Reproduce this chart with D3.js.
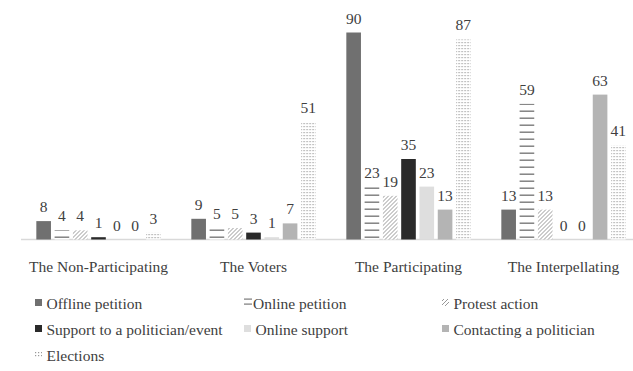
<!DOCTYPE html>
<html>
<head>
<meta charset="utf-8">
<script src="https://cdn.jsdelivr.net/npm/d3@7"></script>
</head>
<body style="margin:0">
<svg id="s" width="633" height="371"></svg>
<script>
// Groups of respondents and forms of participation
const categories = ["The Non-Participating", "The Voters", "The Participating", "The Interpellating"];
const seriesNames = ["Offline petition", "Online petition", "Protest action",
  "Support to a politician/event", "Online support", "Contacting a politician", "Elections"];

// Values per series, one entry per category
const offlinePetition = [8, 9, 90, 13];
const onlinePetition  = [4, 5, 23, 59];
const protestAction   = [4, 5, 19, 13];
const supportPolitician = [1, 3, 35, 0];
const onlineSupport   = [0, 1, 23, 0];
const contactingPolitician = [0, 7, 13, 63];
const elections       = [3, 51, 87, 41];

const seriesValues = [offlinePetition, onlinePetition, protestAction,
  supportPolitician, onlineSupport, contactingPolitician, elections];

const textColor = "#404040";
const fontFamily = "Liberation Serif";
const svg = d3.select("#s");
const defs = svg.append("defs");

// Fill patterns
const hLines = defs.append("pattern").attr("id", "p-hlines")
  .attr("patternUnits", "userSpaceOnUse").attr("width", 8).attr("height", 7);
hLines.append("rect").attr("width", 8).attr("height", 7).attr("fill", "#fff");
hLines.append("rect").attr("x", 0).attr("y", 5.5).attr("width", 8).attr("height", 1.4).attr("fill", "#7a7a7a");

const diag = defs.append("pattern").attr("id", "p-diag")
  .attr("patternUnits", "userSpaceOnUse").attr("width", 4).attr("height", 4);
diag.append("rect").attr("width", 4).attr("height", 4).attr("fill", "#fff");
diag.append("path").attr("d", "M-1,1 L1,-1 M0,4 L4,0 M3,5 L5,3")
  .attr("stroke", "#8c8c8c").attr("stroke-width", 0.9);

const dots = defs.append("pattern").attr("id", "p-dots")
  .attr("patternUnits", "userSpaceOnUse").attr("width", 3).attr("height", 3);
dots.append("rect").attr("width", 3).attr("height", 3).attr("fill", "#fff");
dots.append("rect").attr("x", 0).attr("y", 0).attr("width", 1.2).attr("height", 1.2).attr("fill", "#9a9a9a");

const fills = ["#707070", "url(#p-hlines)", "url(#p-diag)", "#2a2a2a",
  "#dedede", "#b4b4b4", "url(#p-dots)"];

const baseline = 239.5;
const y = d3.scaleLinear().domain([0, 100]).range([baseline, baseline - 230]);
const x0 = d3.scaleBand().domain(categories).range([21, 641]);
const x1 = d3.scaleBand().domain(seriesNames).range([0, 128]).paddingInner(0.2).paddingOuter(0.1);

// Baseline axis
svg.append("line")
  .attr("x1", 21).attr("x2", 641)
  .attr("y1", baseline).attr("y2", baseline)
  .attr("stroke", "#d9d9d9").attr("stroke-width", 1.3);

// Every label goes through this helper so the type settings stay in one place
function label(sel) {
  return sel
    .attr("font-family", fontFamily)
    .attr("font-size", 15.5)
    .attr("fill", textColor)
    .style("font-family", fontFamily)
    .style("font-size", "15.5px");
}

const groups = svg.selectAll("g.group")
  .data(categories)
  .join("g")
  .attr("class", "group")
  .attr("transform", d => `translate(${x0(d) + (x0.bandwidth() - 128) / 2},0)`);

groups.each(function(cat, ci) {
  const g = d3.select(this);
  const rows = seriesNames.map((s, si) => ({ s, si, v: seriesValues[si][ci] }));
  g.selectAll("rect.bar")
    .data(rows)
    .join("rect")
    .attr("class", "bar")
    .attr("x", d => x1(d.s))
    .attr("width", x1.bandwidth())
    .attr("y", d => y(d.v))
    .attr("height", d => baseline - y(d.v))
    .attr("fill", d => fills[d.si]);
  g.selectAll("text.val")
    .data(rows)
    .join("text")
    .attr("class", "val")
    .attr("x", d => x1(d.s) + x1.bandwidth() / 2)
    .attr("y", d => y(d.v) - 9)
    .attr("text-anchor", "middle")
    .call(label)
    .text(d => d.v);
});

// Category labels
svg.selectAll("text.cat")
  .data(categories)
  .join("text")
  .attr("class", "cat")
  .attr("x", d => x0(d) + x0.bandwidth() / 2)
  .attr("y", 272)
  .attr("text-anchor", "middle")
  .call(label)
  .text(d => d);

// Legend
const legendCols = [35, 244, 442];
const legendRows = [309, 335, 361];
const legend = svg.selectAll("g.legend")
  .data(seriesNames)
  .join("g")
  .attr("class", "legend")
  .attr("transform", (d, i) => `translate(${legendCols[i % 3]},${legendRows[Math.floor(i / 3)]})`);

legend.each(function(name, i) {
  const g = d3.select(this);
  if (i === 1) {
    g.append("rect").attr("x", 0).attr("y", -10.5).attr("width", 8).attr("height", 1.2).attr("fill", "#7a7a7a");
    g.append("rect").attr("x", 0).attr("y", -5.5).attr("width", 8).attr("height", 1.2).attr("fill", "#7a7a7a");
  } else {
    g.append("rect").attr("x", 0).attr("y", -10).attr("width", 7).attr("height", 7)
      .attr("fill", fills[i]);
  }
  g.append("text")
    .attr("x", i === 1 ? 9 : 11.5)
    .attr("y", 0)
    .call(label)
    .text(name);
});
</script>
</body>
</html>
